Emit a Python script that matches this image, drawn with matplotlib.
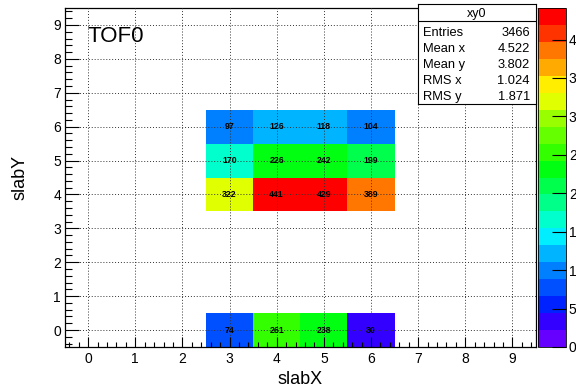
import matplotlib; matplotlib.use("Agg")
import matplotlib.pyplot as plt
import numpy as np
from matplotlib.colors import ListedColormap, Normalize
from matplotlib.ticker import MultipleLocator

plt.rcParams["font.family"] = ["Liberation Sans", "DejaVu Sans"]

# TOF0 slab hit map (slabX vs slabY), counts per cell
SLAB_X = [3, 4, 5, 6]
SLAB_Y = [0, 4, 5, 6]
COUNTS = [[74, 261, 238, 30],     # slabY = 0
          [322, 441, 429, 389],   # slabY = 4
          [170, 226, 242, 199],   # slabY = 5
          [97, 126, 118, 104]]    # slabY = 6
NBINS = 10
Z_TICKS = [0, 50, 100, 150, 200, 250, 300, 350, 400]
# ROOT-like rainbow palette, 20 contour levels, low -> high
PALETTE = ["#6600ff", "#3300ff", "#0022ff", "#0050ff", "#0080ff",
           "#00b4ff", "#00eeff", "#00ffcc", "#00ff88", "#00ff4c",
           "#00ff10", "#33ff00", "#66ff00", "#99ff00", "#e0ff00",
           "#ffee00", "#ffaa00", "#ff7700", "#ff3300", "#ff0000"]
HIST_NAME = "xy0"
STAT_NAMES = ["Entries", "Mean x", "Mean y", "RMS x", "RMS y"]
STAT_VALUES = ["3466", "4.522", "3.802", "1.024", "1.871"]

W, H = 576, 389
fig = plt.figure(figsize=(W / 100, H / 100), dpi=100)

def px(x0, y0, x1, y1):
    # pixel box (top-left origin) -> figure fraction rect
    return [x0 / W, 1 - y1 / H, (x1 - x0) / W, (y1 - y0) / H]

ax = fig.add_axes(px(64.5, 8, 536, 347))
cax = fig.add_axes(px(538, 8, 566, 347))

grid = np.zeros((NBINS, NBINS))
for j, y in enumerate(SLAB_Y):
    for i, x in enumerate(SLAB_X):
        grid[y, x] = COUNTS[j][i]
edges = np.arange(NBINS + 1) - 0.5
cmap = ListedColormap(PALETTE)
norm = Normalize(0, max(max(r) for r in COUNTS))
mesh = ax.pcolormesh(edges, edges, np.ma.masked_equal(grid, 0),
                     cmap=cmap, norm=norm, zorder=1)
for j, y in enumerate(SLAB_Y):
    for i, x in enumerate(SLAB_X):
        ax.text(x, y, str(COUNTS[j][i]), ha="center", va="center",
                fontsize=6.3, fontweight="bold", zorder=4)

ax.set_xlim(-0.5, NBINS - 0.5); ax.set_ylim(-0.5, NBINS - 0.5)
for a in (ax.xaxis, ax.yaxis):
    a.set_major_locator(MultipleLocator(1)); a.set_minor_locator(MultipleLocator(0.2))
ax.tick_params(which="both", direction="in", top=False, right=False)
ax.tick_params(axis="x", which="major", length=7.2, width=0.8, pad=3.5, labelsize=10)
ax.tick_params(axis="x", which="minor", length=3.6, width=0.8)
ax.tick_params(axis="y", which="major", length=10, width=0.8, pad=2.5, labelsize=10)
ax.tick_params(axis="y", which="minor", length=5, width=0.8)
ax.set_axisbelow(False)
ax.grid(True, which="major", color="#333333", linestyle=(0, (1, 2)), linewidth=0.7)
for s in ax.spines.values():
    s.set_linewidth(0.9)
ax.set_xlabel("slabX", fontsize=13)
ax.xaxis.set_label_coords(0.5, -0.071)
ax.set_ylabel("slabY", fontsize=13)
ax.yaxis.set_label_coords(-0.077, 0.5)

cb = fig.colorbar(mesh, cax=cax, ticks=Z_TICKS)
cb.minorticks_off()
cax.tick_params(direction="in", length=10, width=0.8, pad=2, labelsize=10)
cb.outline.set_linewidth(0.6)

fig.text(87 / W, 1 - 42 / H, "TOF0", fontsize=16, va="baseline")

# stats box
sax = fig.add_axes(px(418, 4, 536, 103.5))
sax.set_xticks([]); sax.set_yticks([])
sax.set_xlim(0, 1); sax.set_ylim(0, 1)
for s in sax.spines.values():
    s.set_linewidth(0.8)
sax.axhline(1 - 17 / 99.5, color="black", lw=0.8)
fig.text(477 / W, 1 - 17 / H, HIST_NAME, fontsize=9, ha="center", va="baseline")
for k, (name, val) in enumerate(zip(STAT_NAMES, STAT_VALUES)):
    yb = 36.5 + k * 15.8
    fig.text(423 / W, 1 - yb / H, name, fontsize=9.3, va="baseline")
    fig.text(530 / W, 1 - yb / H, val, fontsize=9.3, ha="right", va="baseline")

fig.savefig("out.png", dpi=100)
